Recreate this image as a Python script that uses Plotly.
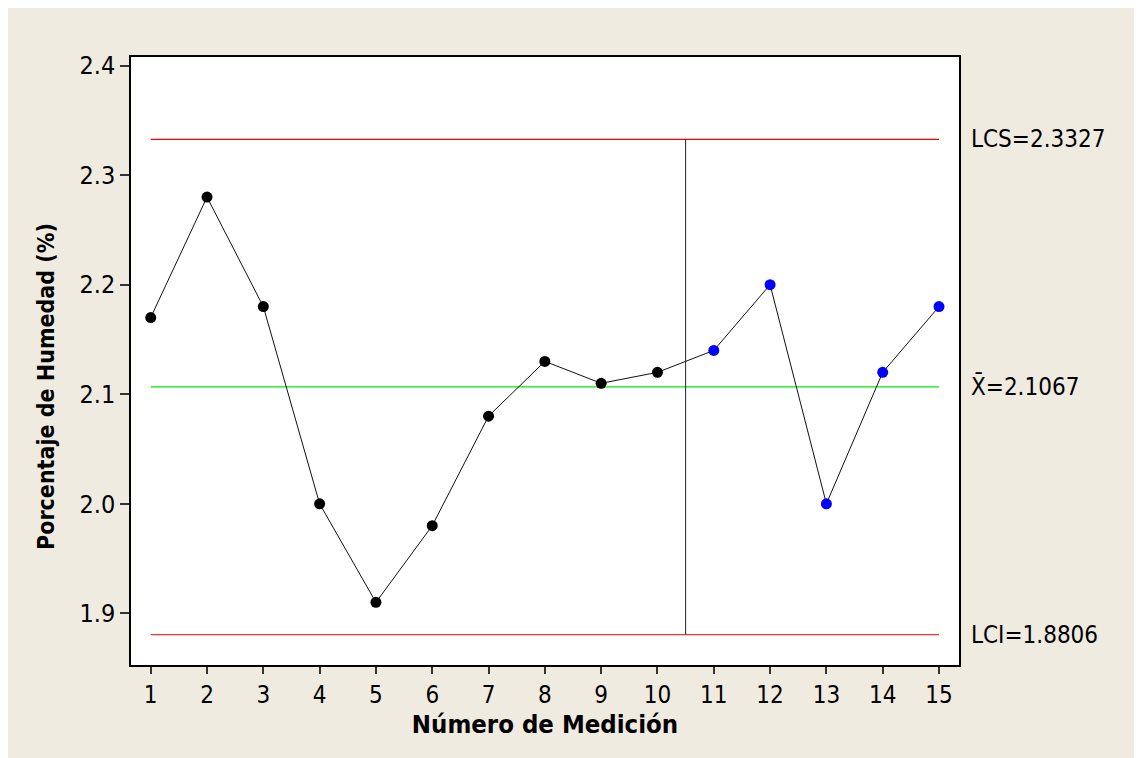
import plotly.graph_objects as go

# Data
medicion = list(range(1, 16))
humedad = [2.17, 2.28, 2.18, 2.00, 1.91, 1.98, 2.08, 2.13, 2.11, 2.12, 2.14, 2.20, 2.00, 2.12, 2.18]
punto_color = ["black"] * 10 + ["blue"] * 5
LCS = 2.3327
XBAR = 2.1067
LCI = 1.8806
split_x = 10.5
y_ticks = [1.9, 2.0, 2.1, 2.2, 2.3, 2.4]
y_tick_text = ["1.9", "2.0", "2.1", "2.2", "2.3", "2.4"]

# page has an 8px body margin; figure placed at (8, 8)
W, H = 1134, 750
L, R, T, B = 123, 183, 49, 93
PW, PH = W - L - R, H - T - B

def px(x):
    return (x - L) / PW

def py(y):
    return (H - B - y) / PH

FONT = "DejaVu Sans Condensed, DejaVu Sans, sans-serif"
BG = "#F0EBE1"

fig = go.Figure()

# control lines
fig.add_trace(go.Scatter(x=[medicion[0], medicion[-1]], y=[LCS, LCS], mode="lines",
                         line=dict(color="#ff0000", width=1.2), hoverinfo="skip", showlegend=False))
fig.add_trace(go.Scatter(x=[medicion[0], medicion[-1]], y=[LCI, LCI], mode="lines",
                         line=dict(color="#ff3030", width=1.2), hoverinfo="skip", showlegend=False))
fig.add_trace(go.Scatter(x=[medicion[0], medicion[-1]], y=[XBAR, XBAR], mode="lines",
                         line=dict(color="#00ee00", width=1.2), hoverinfo="skip", showlegend=False))
fig.add_trace(go.Scatter(x=[split_x, split_x], y=[LCI, LCS], mode="lines",
                         line=dict(color="#222222", width=1), hoverinfo="skip", showlegend=False))

# data
fig.add_trace(go.Scatter(x=medicion, y=humedad, mode="lines+markers",
                         line=dict(color="#111111", width=1),
                         marker=dict(color=punto_color, size=11, line=dict(width=0)),
                         showlegend=False))

labels = [("LCS=2.3327", LCS), ("X\u0304=2.1067", XBAR), ("LCI=1.8806", LCI)]
for txt, yv in labels:
    fig.add_annotation(x=px(961), xref="paper", y=yv, yref="y", text=txt, showarrow=False,
                       xanchor="left", yanchor="middle", font=dict(family=FONT, size=24, color="black"))

# y-axis title (placed as in the reference, slightly below the plot centre)
fig.add_annotation(x=px(38), xref="paper", y=py(379), yref="paper",
                   text="<b>Porcentaje de Humedad (%)</b>", textangle=-90, showarrow=False,
                   xanchor="center", yanchor="middle", font=dict(family=FONT, size=23, color="black"))

fig.update_layout(
    width=W, height=H,
    margin=dict(l=L, r=R, t=T, b=B),
    paper_bgcolor=BG,
    plot_bgcolor="white",
    font=dict(family=FONT, size=24, color="black"),
    xaxis=dict(range=[0.65, 15.355], tickmode="array", tickvals=medicion,
               ticks="outside", ticklen=7, tickcolor="#333333", tickwidth=1.5,
               showgrid=False, zeroline=False, showline=True, linecolor="black", linewidth=1.5,
               mirror=True, tickfont=dict(family=FONT, size=24),
               title=dict(text="<b>Número de Medición</b>", font=dict(family=FONT, size=25.5), standoff=8)),
    yaxis=dict(range=[1.8528, 2.4079], tickmode="array", tickvals=y_ticks, ticktext=y_tick_text,
               ticks="outside", ticklen=9, tickcolor="#333333", tickwidth=1.5,
               showgrid=False, zeroline=False, showline=True, linecolor="black", linewidth=1.5,
               mirror=True, tickfont=dict(family=FONT, size=25)),
)

fig.write_html("out.html")
